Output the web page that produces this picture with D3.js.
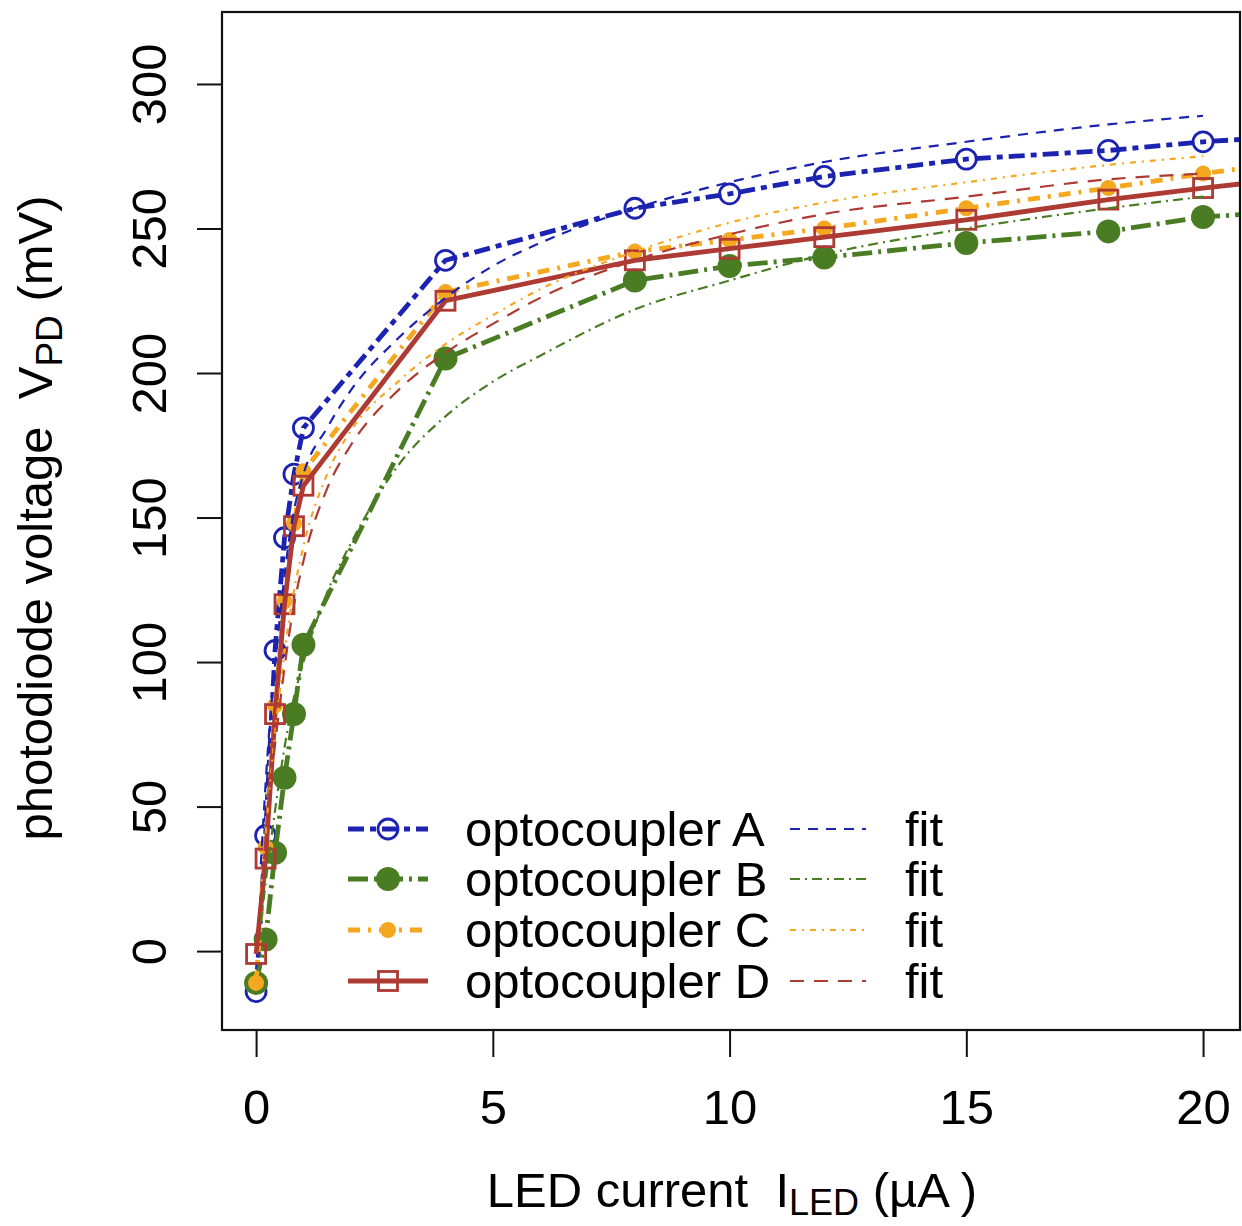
<!DOCTYPE html>
<html>
<head>
<meta charset="utf-8">
<script src="https://cdn.jsdelivr.net/npm/d3@7"></script>
<style>
  html, body { margin: 0; padding: 0; background: #fff; }
  svg text { font-family: "Liberation Sans", Arial, Helvetica, sans-serif; fill: #000; }
</style>
</head>
<body>
<svg id="chart" width="1242" height="1226"></svg>
<script>
// ---- data ----
const ledCurrent = [0, 0.2, 0.4, 0.6, 0.8, 1, 4, 8, 10, 12, 15, 18, 20, 25];
const voltA = [-14, 40, 104, 143, 165, 181, 239, 257, 262, 268, 274, 277, 280, 285];
const voltB = [-11, 4, 34, 60, 82, 106, 205, 232, 237, 240, 245, 249, 254, 259];
const voltC = [-11, 36, 85, 121, 148, 166, 228, 242, 246, 250, 257, 264, 269, 280];
const voltD = [-1, 32, 82, 120, 147, 161, 225, 239, 243, 247, 253, 260, 264, 273];

const fitCurrent = [0.1, 0.25, 0.5, 0.75, 1, 1.5, 2, 3, 4, 5, 6, 8, 10, 12, 15, 18, 20];
const fitA = [30, 70, 115, 148, 165, 181, 194, 212, 226, 237, 245, 257, 266, 273, 280, 286, 289];
const fitB = [10, 30, 60, 84, 100, 124, 141, 168, 185, 197, 206, 222, 232, 241, 250, 257, 261];
const fitC = [20, 50, 90, 120, 140, 165, 180, 197, 210, 220, 229, 242, 252, 259, 266, 272, 275];
const fitD = [18, 48, 85, 115, 135, 160, 175, 194, 207, 217, 226, 239, 248, 255, 261, 267, 269];

const seriesNames = ["optocoupler A", "optocoupler B", "optocoupler C", "optocoupler D"];
const fitLabel = "fit";
const xTicks = [0, 5, 10, 15, 20];
const yTicks = [0, 50, 100, 150, 200, 250, 300];

// ---- styles ----
const colors = ["#1c23b0", "#4a7d23", "#f5a81f", "#ad3a33"];
const dataDash = ["16,6,6,6", "20,6,3,6", "12,8,3,8", null];
const fitDash = ["10,8", "10,5,2,5", "6,6,2,6", "14,10"];
const markers = ["openCircle", "filledCircle", "smallCircle", "openSquare"];

const svg = d3.select("#chart");
const L = 222, R = 1240, T = 12, B = 1030;
const x = d3.scaleLinear().domain([-0.72, 20.78]).range([L, R]);
const y = d3.scaleLinear().domain([-27.3, 324.9]).range([B, T]);

svg.append("defs").append("clipPath").attr("id", "plotclip")
  .append("rect").attr("x", L).attr("y", T).attr("width", R - L).attr("height", B - T);

const plot = svg.append("g").attr("clip-path", "url(#plotclip)");

const dataSets = [voltA, voltB, voltC, voltD];
const fitSets = [fitA, fitB, fitC, fitD];

const line = d3.line().x(d => x(d[0])).y(d => y(d[1]));
const fitLine = d3.line().x(d => x(d[0])).y(d => y(d[1])).curve(d3.curveMonotoneX);

function drawMarker(g, kind, cx, cy, color) {
  if (kind === "openCircle") {
    g.append("circle").attr("cx", cx).attr("cy", cy).attr("r", 10)
      .attr("fill", "none").attr("stroke", color).attr("stroke-width", 2.8);
  } else if (kind === "filledCircle") {
    g.append("circle").attr("cx", cx).attr("cy", cy).attr("r", 12).attr("fill", color);
  } else if (kind === "smallCircle") {
    g.append("circle").attr("cx", cx).attr("cy", cy).attr("r", 8).attr("fill", color);
  } else {
    g.append("rect").attr("x", cx - 9.5).attr("y", cy - 9.5).attr("width", 19).attr("height", 19)
      .attr("fill", "none").attr("stroke", color).attr("stroke-width", 2.8);
  }
}

// data lines + markers
dataSets.forEach((vals, i) => {
  const pts = ledCurrent.map((c, k) => [c, vals[k]]);
  plot.append("path").attr("d", line(pts)).attr("fill", "none")
    .attr("stroke", colors[i]).attr("stroke-width", 4.8)
    .attr("stroke-dasharray", dataDash[i]);
  const mg = plot.append("g");
  pts.forEach(p => drawMarker(mg, markers[i], x(p[0]), y(p[1]), colors[i]));
});

// fit lines
fitSets.forEach((vals, i) => {
  const pts = fitCurrent.map((c, k) => [c, vals[k]]);
  plot.append("path").attr("d", fitLine(pts)).attr("fill", "none")
    .attr("stroke", colors[i]).attr("stroke-width", 2.2)
    .attr("stroke-dasharray", fitDash[i]);
});

// frame
svg.append("rect").attr("x", L).attr("y", T).attr("width", R - L).attr("height", B - T)
  .attr("fill", "none").attr("stroke", "#111").attr("stroke-width", 2.2);

// x axis
const gx = svg.append("g").attr("transform", `translate(0,${B})`)
  .call(d3.axisBottom(x).tickValues(xTicks).tickSize(27).tickPadding(32).tickFormat(d3.format("d")));
gx.select(".domain").remove();
gx.selectAll("line").attr("stroke", "#111").attr("stroke-width", 2);
gx.selectAll("text").attr("font-size", 49).attr("font-family", "Liberation Sans, Arial, sans-serif");

// y axis
const gy = svg.append("g").attr("transform", `translate(${L},0)`)
  .call(d3.axisLeft(y).tickValues(yTicks).tickSize(25).tickFormat(d3.format("d")));
gy.select(".domain").remove();
gy.selectAll("line").attr("stroke", "#111").attr("stroke-width", 2);
gy.selectAll("text")
  .attr("x", null).attr("dy", null)
  .attr("font-size", 49).attr("font-family", "Liberation Sans, Arial, sans-serif")
  .attr("text-anchor", "middle")
  .attr("transform", "translate(-56,0) rotate(-90)");

// axis titles
const xt = svg.append("text").attr("x", 732).attr("y", 1207).attr("text-anchor", "middle")
  .attr("font-size", 49).style("white-space", "pre");
xt.append("tspan").text("LED current  I");
xt.append("tspan").attr("font-size", 36).attr("dy", 8).text("LED");
xt.append("tspan").attr("dy", -8).text(" (µA )");

const yt = svg.append("text").attr("transform", "translate(52,518) rotate(-90)")
  .attr("text-anchor", "middle").attr("font-size", 49).style("white-space", "pre");
yt.append("tspan").text("photodiode voltage  V");
yt.append("tspan").attr("font-size", 37).attr("dy", 10).text("PD");
yt.append("tspan").attr("dy", -10).text(" (mV)");

// legend
const legendY = [829, 879, 930, 981];
const lg = svg.append("g");
seriesNames.forEach((name, i) => {
  const cy = legendY[i];
  lg.append("line").attr("x1", 348).attr("x2", 428).attr("y1", cy).attr("y2", cy)
    .attr("stroke", colors[i]).attr("stroke-width", 4.8).attr("stroke-dasharray", dataDash[i]);
  drawMarker(lg, markers[i], 388, cy, colors[i]);
  lg.append("text").attr("x", 465).attr("y", cy + 17).attr("font-size", 49).text(name);
  lg.append("line").attr("x1", 790).attr("x2", 866).attr("y1", cy).attr("y2", cy)
    .attr("stroke", colors[i]).attr("stroke-width", 2.2).attr("stroke-dasharray", fitDash[i]);
  lg.append("text").attr("x", 905).attr("y", cy + 17).attr("font-size", 49).text(fitLabel);
});
</script>
</body>
</html>
